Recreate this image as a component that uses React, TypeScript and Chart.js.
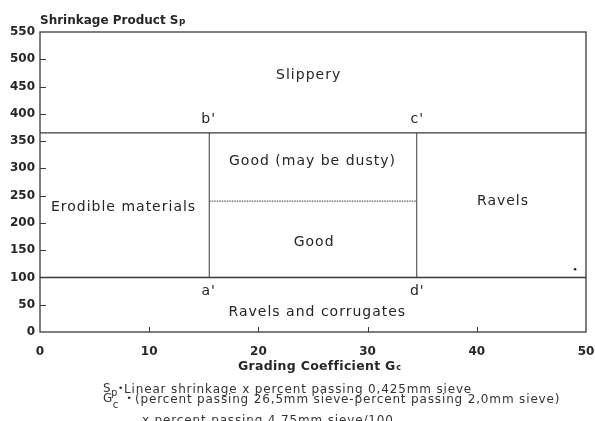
import React, { useEffect, useRef } from "react";
import { Chart, registerables } from "chart.js";

Chart.register(...registerables);

// ---- data ----
const xTickValues = [0, 10, 20, 30, 40, 50];
const yTickValues = [0, 50, 100, 150, 200, 250, 300, 350, 400, 450, 500, 550];
const gradingRange = [0, 50]; // full width of the horizontal boundaries
const shrinkageLimits = [100, 365]; // lower / upper Sp boundaries
const gradingLimits = [15.5, 34.5]; // a'-b' and d'-c' verticals
const dustyLimit = 240; // dotted split inside the "Good" box
const strayPoints = [{ x: 49, y: 115 }];

const regionTexts = ["Slippery", "b'", "c'", "Good (may be dusty)", "Erodible materials", "Ravels", "Good", "a'", "d'", "Ravels and corrugates"];
const regionX = [24.6, 15.45, 34.55, 24.95, 7.65, 42.4, 25.1, 15.45, 34.55, 25.4];
const regionY = [471, 389, 389, 312, 229, 240, 164, 75, 75, 36.5];

const FAMILY = "DejaVu Sans";
const FONT = "'DejaVu Sans', sans-serif";
const INK = "#262626";
const LINE = "#3a3a3a";

Chart.defaults.font.family = FAMILY;
Chart.defaults.font.size = 12;
Chart.defaults.font.weight = "bold" as any;
Chart.defaults.color = INK;

function drawSub(ctx: CanvasRenderingContext2D, main: string, sub: string, x: number, y: number, mainFont: string, subFont: string, subDy: number, ls = "0px") {
  ctx.font = mainFont;
  (ctx as any).letterSpacing = ls;
  ctx.fillText(main, x, y);
  const w = ctx.measureText(main).width;
  ctx.font = subFont;
  ctx.fillText(sub, x + w + 0.5, y + subDy);
  return x + w + 0.5 + ctx.measureText(sub).width;
}

const overlayPlugin = {
  id: "overlay",
  afterDraw(chart: any) {
    const { ctx, chartArea, scales } = chart;
    const xs = scales.x;
    const ys = scales.y;
    ctx.save();
    // frame
    ctx.strokeStyle = LINE;
    ctx.lineWidth = 1.3;
    ctx.strokeRect(chartArea.left, chartArea.top, chartArea.right - chartArea.left, chartArea.bottom - chartArea.top);
    // inside ticks
    ctx.lineWidth = 1;
    ctx.beginPath();
    xTickValues.slice(1, -1).forEach((v) => {
      const px = Math.round(xs.getPixelForValue(v)) + 0.5;
      ctx.moveTo(px, chartArea.bottom);
      ctx.lineTo(px, chartArea.bottom - 5);
    });
    yTickValues.slice(1, -1).forEach((v) => {
      const py = Math.round(ys.getPixelForValue(v)) + 0.5;
      ctx.moveTo(chartArea.left, py);
      ctx.lineTo(chartArea.left + 6, py);
    });
    ctx.stroke();

    // region labels
    ctx.fillStyle = INK;
    ctx.textAlign = "center";
    ctx.textBaseline = "middle";
    ctx.font = `14px ${FONT}`;
    (ctx as any).letterSpacing = "1px";
    regionTexts.forEach((t, i) => {
      ctx.fillText(t, xs.getPixelForValue(regionX[i]), ys.getPixelForValue(regionY[i]));
    });

    // axis titles
    ctx.textAlign = "left";
    ctx.textBaseline = "alphabetic";
    drawSub(ctx, "Shrinkage Product S", "p", 40, 24, `bold 12px ${FONT}`, `bold 9px ${FONT}`, 0);
    drawSub(ctx, "Grading Coefficient G", "c", 238, 369.5, `bold 12.5px ${FONT}`, `bold 8px ${FONT}`, 0, "0.3px");

    // footnotes
    const fn = `12px ${FONT}`;
    const bullet = `9px ${FONT}`;
    ctx.fillStyle = "#333";
    drawSub(ctx, "S", "p", 103, 392, fn, `10px ${FONT}`, 4);
    ctx.font = bullet;
    ctx.fillText("•", 118, 391);
    ctx.font = fn;
    (ctx as any).letterSpacing = "0.85px";
    ctx.fillText("Linear shrinkage x percent passing 0,425mm sieve", 124, 393);
    drawSub(ctx, "G", "c", 103, 402, fn, `10px ${FONT}`, 5.5);
    ctx.font = bullet;
    ctx.fillText("•", 126.5, 401);
    ctx.font = fn;
    (ctx as any).letterSpacing = "0.85px";
    ctx.fillText("(percent passing 26,5mm sieve-percent passing 2,0mm sieve)", 135, 402.5);
    ctx.fillText("x percent passing 4.75mm sieve/100", 142, 424);
    ctx.restore();
  },
};

export default function App() {
  const ref = useRef<HTMLCanvasElement | null>(null);
  useEffect(() => {
    document.body.style.margin = "0";
    document.body.style.background = "#fff";
    if (!ref.current) return;
    const seg = (pts: { x: number; y: number }[], width: number, dash: number[] = []) => ({
      data: pts,
      showLine: true,
      borderColor: LINE,
      borderWidth: width,
      borderDash: dash,
      pointRadius: 0,
      fill: false,
    });
    const tickFont = { family: FAMILY, size: 12, weight: "bold" as any };
    const chart = new Chart(ref.current, {
      type: "scatter",
      data: {
        datasets: [
          seg([{ x: gradingRange[0], y: shrinkageLimits[1] }, { x: gradingRange[1], y: shrinkageLimits[1] }], 1.4),
          seg([{ x: gradingRange[0], y: shrinkageLimits[0] }, { x: gradingRange[1], y: shrinkageLimits[0] }], 1.4),
          seg([{ x: gradingLimits[0], y: shrinkageLimits[0] }, { x: gradingLimits[0], y: shrinkageLimits[1] }], 1),
          seg([{ x: gradingLimits[1], y: shrinkageLimits[0] }, { x: gradingLimits[1], y: shrinkageLimits[1] }], 1),
          seg([{ x: gradingLimits[0], y: dustyLimit }, { x: gradingLimits[1], y: dustyLimit }], 1, [1.5, 1]),
          {
            data: strayPoints,
            showLine: false,
            pointRadius: 1.3,
            pointBackgroundColor: "#222",
            pointBorderWidth: 0,
          } as any,
        ],
      },
      options: {
        animation: false,
        responsive: false,
        events: [],
        layout: { padding: { top: 32, right: 9, left: 0, bottom: 0 } },
        plugins: { legend: { display: false }, tooltip: { enabled: false }, title: { display: false } },
        scales: {
          x: {
            type: "linear",
            min: xTickValues[0],
            max: xTickValues[xTickValues.length - 1],
            afterBuildTicks: (s: any) => {
              s.ticks = xTickValues.map((v) => ({ value: v }));
            },
            afterFit: (s: any) => {
              s.height = 89;
              s.paddingLeft = 0;
              s.paddingRight = 0;
            },
            grid: { display: false, drawTicks: false, tickLength: 0 },
            border: { display: false },
            ticks: { font: tickFont, color: INK, padding: 13, maxRotation: 0 },
          },
          y: {
            type: "linear",
            min: yTickValues[0],
            max: yTickValues[yTickValues.length - 1],
            afterBuildTicks: (s: any) => {
              s.ticks = yTickValues.map((v) => ({ value: v }));
            },
            afterFit: (s: any) => {
              s.width = 40;
              s.paddingTop = 0;
              s.paddingBottom = 0;
            },
            grid: { display: false, drawTicks: false, tickLength: 0 },
            border: { display: false },
            ticks: { font: tickFont, color: INK, padding: 5 },
          },
        },
      },
      plugins: [overlayPlugin],
    });
    return () => chart.destroy();
  }, []);
  return (
    <div style={{ width: 595, height: 421, background: "#fff" }}>
      <canvas ref={ref} width={595} height={421} style={{ display: "block" }} />
    </div>
  );
}
